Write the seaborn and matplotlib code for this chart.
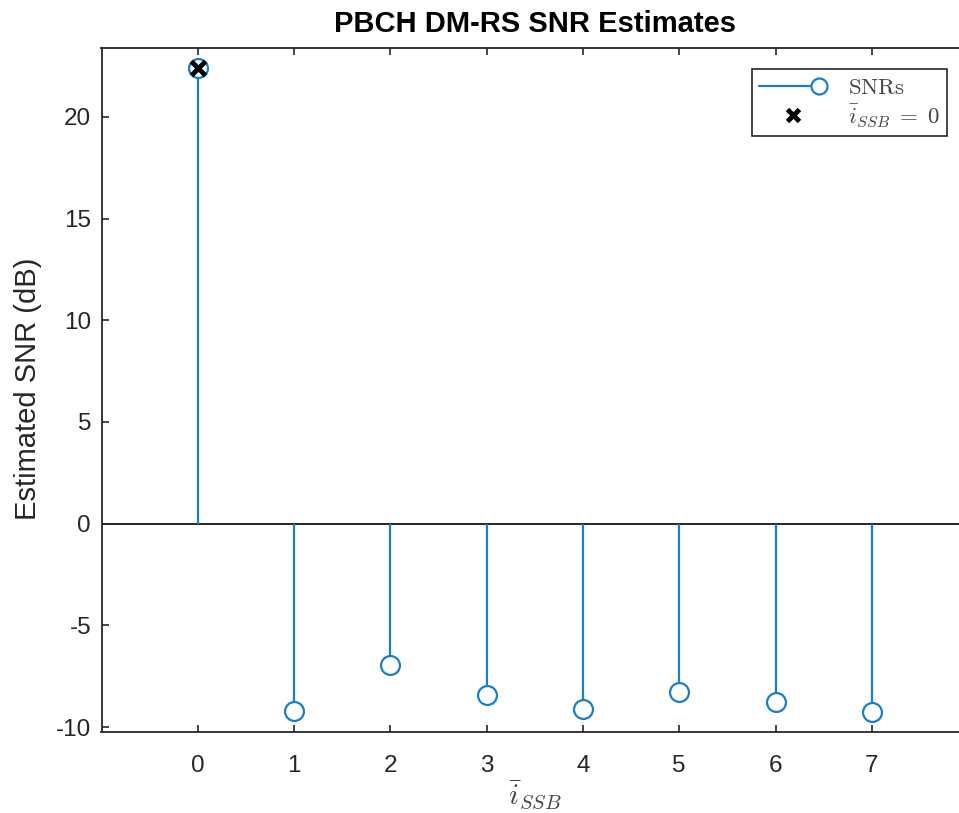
import numpy as np
import pandas as pd
import matplotlib
matplotlib.use("Agg")
import matplotlib.pyplot as plt
import seaborn as sns
from matplotlib.lines import Line2D
from matplotlib.legend_handler import HandlerBase

# ---- data ----
i_ssb = [0, 1, 2, 3, 4, 5, 6, 7]
snr_db = [22.4, -9.2, -6.95, -8.43, -9.12, -8.29, -8.77, -9.26]
detected_i = [0]
detected_snr = [22.4]
x_ticks = [0, 1, 2, 3, 4, 5, 6, 7]
y_ticks = [-10, -5, 0, 5, 10, 15, 20]

BLUE = "#1a7fc6"
AX = "#262626"

sns.set_theme(style="white")
plt.rcParams["font.family"] = ["Liberation Sans", "DejaVu Sans"]
plt.rcParams["mathtext.fontset"] = "cm"
plt.rcParams["axes.unicode_minus"] = False

fig = plt.figure(figsize=(9.59, 8.13), dpi=100)
ax = fig.add_axes([101.5 / 959, 80.7 / 813, 866.6 / 959, 684.6 / 813])

df = pd.DataFrame({"i": i_ssb, "snr": snr_db})

# stems
ax.vlines(df["i"], 0, df["snr"], color=BLUE, lw=1.6, zorder=2)
# baseline
ax.axhline(0, color=AX, lw=1.4, zorder=1)
# markers
sns.scatterplot(data=df, x="i", y="snr", ax=ax, marker="o", s=185,
                facecolor="white", edgecolor=BLUE, linewidth=1.6, zorder=3,
                legend=False)
ax.plot(detected_i, detected_snr, linestyle="none", marker="x", color="black",
        markersize=10, mew=3.5, zorder=4)

ax.set_xlim(-1, 8)
ax.set_ylim(min(snr_db) - 1, max(snr_db) + 1)
ax.set_xticks(x_ticks)
ax.set_yticks(y_ticks)
ax.tick_params(direction="in", length=5, width=1.2, colors=AX, labelsize=17.5,
               top=True, right=True, labeltop=False, labelright=False,
               bottom=True, left=True)
ax.tick_params(axis="x", pad=16.5)
ax.tick_params(axis="y", pad=7.5)
for s in ax.spines.values():
    s.set_color(AX)
    s.set_linewidth(1.3)
    s.set_visible(True)

ax.set_title("PBCH DM-RS SNR Estimates", fontsize=21, fontweight="bold",
             color="black", pad=11)
ax.set_ylabel("Estimated SNR (dB)", fontsize=21, color=AX)
ax.yaxis.set_label_coords(-0.069, (732.3 - 389) / 684.6)
ax.set_xlabel(r"$\bar{i}_{SSB}$", fontsize=21, color="#444444")
ax.xaxis.set_label_coords(0.5, -(778 - 732.3) / 684.6)


class StemHandler(HandlerBase):
    def create_artists(self, legend, orig_handle, xdescent, ydescent, width,
                       height, fontsize, trans):
        y = height / 2 - ydescent
        x0 = -xdescent
        x1 = width - xdescent
        line = Line2D([x0, x1 - 6], [y, y], color=BLUE, lw=1.6)
        mk = Line2D([x1 - 6], [y], marker="o", mfc="white", mec=BLUE,
                    ms=11.5, mew=1.6, linestyle="none")
        line.set_transform(trans)
        mk.set_transform(trans)
        return [line, mk]


stem_handle = Line2D([], [], color=BLUE)
x_handle = Line2D([], [], linestyle="none", marker="x", color="black",
                  markersize=9, mew=3.5)
leg = ax.legend([stem_handle, x_handle],
                [r"$\mathrm{SNRs}$", r"$\bar{i}_{SSB}\;=\;0$"],
                handler_map={stem_handle: StemHandler()},
                loc="upper right", bbox_to_anchor=(947 / 959, 1 - 69 / 813),
                bbox_transform=fig.transFigure, borderaxespad=0,
                fontsize=16.5, handlelength=3.0, handletextpad=0.9,
                labelspacing=0.15, borderpad=0.3, fancybox=False,
                framealpha=1, edgecolor=AX)
leg.get_frame().set_linewidth(1.2)
for t in leg.get_texts():
    t.set_color("#444444")

fig.savefig("out.png", dpi=100)
